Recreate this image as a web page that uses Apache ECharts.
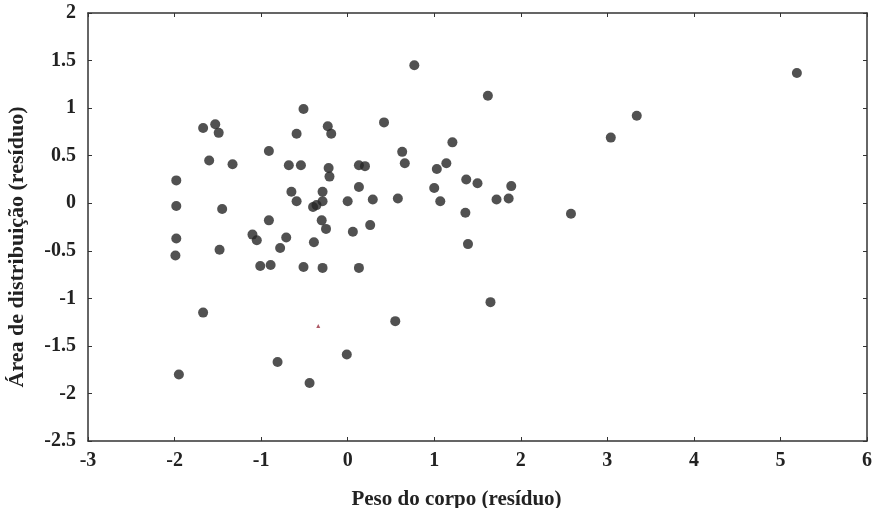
<!DOCTYPE html>
<html>
<head>
<meta charset="utf-8">
<script src="https://cdn.jsdelivr.net/npm/echarts@6/dist/echarts.min.js"></script>
<style>
  html, body { margin: 0; padding: 0; background: #fff; }
  #chart { width: 884px; height: 508px; }
</style>
</head>
<body>
<div id="chart"></div>
<script>
// resíduos: peso do corpo (x) vs área de distribuição (y)
const pesoX = [
  -1.98, -1.98, -1.98, -1.99, -1.95, -1.67, -1.60, -1.53, -1.49, -1.45,
  -1.48, -1.33, -1.67, -1.10, -1.05, -1.01, -0.91, -0.91, -0.89, -0.81,
  -0.78, -0.71, -0.68, -0.65, -0.59, -0.59, -0.54, -0.51, -0.51, -0.44,
  -0.40, -0.39, -0.36, -0.29, -0.29, -0.30, -0.29, -0.25, -0.23, -0.19,
  -0.22, -0.21, 0.00, -0.01, 0.06, 0.13, 0.13, 0.20, 0.13, 0.26,
  0.29, 0.42, 0.55, 0.58, 0.63, 0.66, 0.77, 1.00, 1.03, 1.07,
  1.14, 1.21, 1.36, 1.37, 1.39, 1.50, 1.62, 1.65, 1.72, 1.86,
  1.89, 2.58, 3.04, 3.34, 5.19
];
const areaY = [
  0.24, -0.03, -0.37, -0.55, -1.80, 0.79, 0.45, 0.83, 0.74, -0.06,
  -0.49, 0.41, -1.15, -0.33, -0.39, -0.66, 0.55, -0.18, -0.65, -1.67,
  -0.47, -0.36, 0.40, 0.12, 0.02, 0.73, 0.40, 0.99, -0.67, -1.89,
  -0.04, -0.41, -0.02, 0.02, 0.12, -0.18, -0.68, -0.27, 0.81, 0.73,
  0.37, 0.28, 0.02, -1.59, -0.30, 0.17, 0.40, 0.39, -0.68, -0.23,
  0.04, 0.85, -1.24, 0.05, 0.54, 0.42, 1.45, 0.16, 0.36, 0.02,
  0.42, 0.64, -0.10, 0.25, -0.43, 0.21, 1.13, -1.04, 0.04, 0.05,
  0.18, -0.11, 0.69, 0.92, 1.37
];
// pequena marca avermelhada no original
const marcaX = [-0.34];
const marcaY = [-1.29];

const xTicks = { min: -3, max: 6, interval: 1 };
const yTicks = { min: -2.5, max: 2, interval: 0.5 };

const font = 'Liberation Serif';
const ink = '#222';

const chart = echarts.init(document.getElementById('chart'));

const axisCommon = {
  axisLine: { show: true, onZero: false, lineStyle: { color: '#333', width: 1.5 } },
  axisTick: { show: true, inside: true, length: 4, lineStyle: { color: '#333', width: 1 } },
  splitLine: { show: false }
};

chart.setOption({
  backgroundColor: '#fff',
  animation: false,
  grid: { left: 88, right: 17, top: 13, bottom: 67, outerBoundsMode: 'none' },
  xAxis: [
    {
      type: 'value', ...xTicks, position: 'bottom',
      ...axisCommon,
      axisLabel: { color: ink, fontFamily: font, fontWeight: 'bold', fontSize: 20, margin: 10 },
      name: 'Peso do corpo (resíduo)',
      nameLocation: 'middle',
      nameGap: 48,
      nameTextStyle: { color: ink, fontFamily: font, fontWeight: 'bold', fontSize: 21, padding: [0, 42, 0, 0] }
    },
    {
      type: 'value', ...xTicks, position: 'top',
      ...axisCommon,
      axisLabel: { show: false }
    }
  ],
  yAxis: [
    {
      type: 'value', ...yTicks, position: 'left',
      ...axisCommon,
      axisLabel: { color: ink, fontFamily: font, fontWeight: 'bold', fontSize: 20, margin: 12 },
      name: 'Área de distribuição (resíduo)',
      nameLocation: 'middle',
      nameGap: 60,
      nameTextStyle: { color: ink, fontFamily: font, fontWeight: 'bold', fontSize: 22, padding: [0, 40, 0, 0] }
    },
    {
      type: 'value', ...yTicks, position: 'right',
      ...axisCommon,
      axisLabel: { show: false }
    }
  ],
  series: [
    {
      type: 'scatter',
      symbol: 'circle',
      symbolSize: 10,
      itemStyle: { color: '#262626' },
      data: pesoX.map((x, i) => [x, areaY[i]])
    },
    {
      type: 'scatter',
      symbol: 'triangle',
      symbolSize: 4,
      itemStyle: { color: '#9a3040' },
      data: marcaX.map((x, i) => [x, marcaY[i]])
    }
  ]
});
</script>
</body>
</html>
